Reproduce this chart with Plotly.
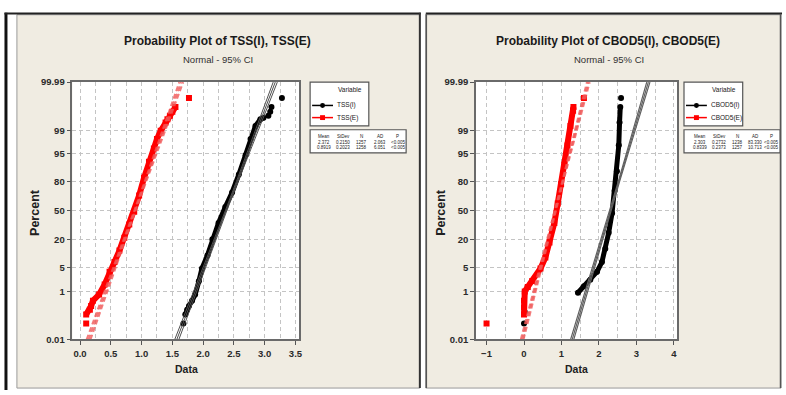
import plotly.graph_objects as go
from statistics import NormalDist

W, H = 786, 395
ND = NormalDist()

# ---------------- data ----------------
percent_ticks = [0.01, 1, 5, 20, 50, 80, 95, 99, 99.99]
percent_tick_text = ["0.01", "1", "5", "20", "50", "80", "95", "99", "99.99"]

# TSS(I)  (black circles)
tss_i_pct = [0.056, 0.135, 0.212, 0.298, 0.466, 0.776, 2.07, 4.75, 9.85, 20.6, 36.3, 54.4,
             70.2, 85.3, 94.6, 98.1, 99.29, 99.59, 99.64, 99.70, 99.79, 99.865, 99.944]
tss_i_val = [1.68, 1.71, 1.74, 1.77, 1.82, 1.87, 1.93, 1.98, 2.07, 2.15, 2.25, 2.36,
             2.47, 2.58, 2.69, 2.77, 2.85, 2.93, 2.98, 3.06, 3.09, 3.11, 3.28]
# TSS(E)  (red squares)
tss_e_pct = [0.056, 0.135, 0.212, 0.298, 0.466, 0.776, 1.66, 3.92, 6.94, 12.5, 21.8, 34.5,
             48.8, 67.0, 83.0, 92.2, 96.4, 98.1, 98.96, 99.46, 99.59, 99.70, 99.79, 99.865, 99.944]
tss_e_val = [0.10, 0.10, 0.16, 0.18, 0.21, 0.31, 0.40, 0.48, 0.56, 0.64, 0.72, 0.80,
             0.88, 0.96, 1.04, 1.12, 1.20, 1.25, 1.31, 1.39, 1.42, 1.46, 1.50, 1.55, 1.77]
# CBOD5(I) (black circles)
cbod_i_pct = [0.056, 0.17, 0.89, 1.46, 2.33, 3.92, 6.94, 13.6, 26.3, 47.2, 71.9, 87.3,
              97.1, 99.46, 99.865, 99.944]
cbod_i_val = [0.0, 0.02, 1.44, 1.60, 1.77, 1.95, 2.08, 2.17, 2.26, 2.35, 2.42, 2.48,
              2.53, 2.55, 2.57, 2.59]
# CBOD5(E) (red squares)
cbod_e_pct = [0.056, 0.135, 0.264, 0.466, 0.99, 1.39, 2.12, 4.75, 8.85, 17.9, 36.3, 58.3,
              77.9, 90.8, 97.06, 99.29, 99.81, 99.865, 99.944]
cbod_e_val = [-1.0, 0.0, 0.0, 0.0, 0.02, 0.10, 0.22, 0.44, 0.57, 0.68, 0.81, 0.90,
              0.99, 1.08, 1.16, 1.24, 1.31, 1.32, 1.60]

# summary statistics (legend tables)
stat_header = ["Mean", "StDev", "N", "AD", "P"]
tss_names = ["TSS(I)", "TSS(E)"]
tss_mean = [2.372, 0.8919]
tss_sd = [0.2150, 0.2023]
tss_n = [1257, 1258]
tss_ad = ["2.063", "6.051"]
tss_p = ["<0.005", "<0.005"]
cbod_names = ["CBOD5(I)", "CBOD5(E)"]
cbod_mean = [2.303, 0.8339]
cbod_sd = [0.2732, 0.2373]
cbod_n = [1238, 1257]
cbod_ad = ["83.330", "10.713"]
cbod_p = ["<0.005", "<0.005"]

# ---------------- helpers ----------------
FONT = "Liberation Sans, Arial, sans-serif"
BEIGE = "#F0ECE2"
RED = "#FF0000"
RED_FIT = "rgba(240,90,90,0.8)"
GRID = "#C4C4C4"


def zq(p):
    return ND.inv_cdf(p / 100.0)


def PX(x):
    return x / W


def PY(y):
    return 1 - y / H


fig = go.Figure()


def add_series(vals, pcts, color, symbol, lo, hi, xa, ya, lw):
    zs = [zq(p) for p in pcts]
    fig.add_trace(go.Scatter(x=vals[lo:hi], y=zs[lo:hi], mode="lines",
                             line=dict(color=color, width=lw), xaxis=xa, yaxis=ya,
                             hoverinfo="skip"))
    fig.add_trace(go.Scatter(x=vals, y=zs, mode="markers",
                             marker=dict(color=color, symbol=symbol, size=6, line=dict(width=0)),
                             xaxis=xa, yaxis=ya))


def add_fit(mean, sd, n, color, dash, width, xa, ya):
    zs = [zq(p) for p in percent_ticks]
    fit = [mean + sd * z for z in zs]
    half = [1.96 * sd * (1.0 / n + z * z / (2.0 * n)) ** 0.5 for z in zs]
    lower = [f - h for f, h in zip(fit, half)]
    upper = [f + h for f, h in zip(fit, half)]
    for xs in (lower, fit, upper):
        fig.add_trace(go.Scatter(x=xs, y=zs, mode="lines",
                                 line=dict(color=color, width=width, dash=dash),
                                 xaxis=xa, yaxis=ya, hoverinfo="skip"))


# left panel
add_series(tss_i_val, tss_i_pct, "#000000", "circle", 1, 19, "x", "y", 5)
add_series(tss_e_val, tss_e_pct, RED, "square", 1, 24, "x", "y", 6)
add_fit(tss_mean[0], tss_sd[0], tss_n[0], "#505050", "solid", 1, "x", "y")
add_fit(tss_mean[1], tss_sd[1], tss_n[1], RED_FIT, "5px,3px", 2, "x", "y")

# right panel
add_series(cbod_i_val, cbod_i_pct, "#000000", "circle", 2, 15, "x2", "y2", 5)
add_series(cbod_e_val, cbod_e_pct, RED, "square", 1, 18, "x2", "y2", 6)
add_fit(cbod_mean[0], cbod_sd[0], cbod_n[0], "#606060", "solid", 1.2, "x2", "y2")
add_fit(cbod_mean[1], cbod_sd[1], cbod_n[1], RED_FIT, "5px,3px", 2, "x2", "y2")

# ---------------- axes ----------------
TICKFONT = dict(family=FONT, size=9.5, color="#2a2a2a", weight="bold")
ydom = [PY(343), PY(78.3)]
yax = dict(range=[zq(0.01), zq(99.99)], tickmode="array",
           tickvals=[zq(p) for p in percent_ticks], ticktext=percent_tick_text,
           ticks="outside", ticklen=4, tickcolor="#555", showline=True, linecolor="#6a6a6a",
           linewidth=1.5, mirror=True, showgrid=True, gridcolor=GRID, griddash="4px,3px",
           gridwidth=1, zeroline=False, domain=ydom, tickfont=TICKFONT)


def xax(rng, dtick, minor, dom, fmt, anchor):
    return dict(range=rng, tickmode="linear", tick0=0, dtick=dtick, tickformat=fmt,
                ticks="outside", ticklen=4, tickcolor="#555", showline=True,
                linecolor="#6a6a6a", linewidth=1.5, mirror=True, showgrid=True,
                gridcolor=GRID, griddash="4px,3px", gridwidth=1, zeroline=False,
                minor=dict(dtick=minor, tick0=0, showgrid=True, gridcolor=GRID,
                           griddash="4px,3px", gridwidth=1),
                domain=dom, anchor=anchor, tickfont=TICKFONT)


fig.update_layout(
    width=W, height=H, margin=dict(l=0, r=0, t=0, b=0),
    paper_bgcolor="white", plot_bgcolor="white", showlegend=False,
    xaxis=xax([-0.125, 3.56], 0.5, 0.25, [PX(72.7), PX(300.7)], ".1f", "y"),
    yaxis=dict(yax, anchor="x"),
    xaxis2=xax([-1.285, 4.09], 1, 0.5, [PX(478.3), PX(680.7)], "d", "y2"),
    yaxis2=dict(yax, anchor="x2"),
)

# ---------------- panels / frames ----------------
shapes = []


def rect(x0, y0, x1, y1, fill, line_color=None, lw=0, layer="below"):
    shapes.append(dict(type="rect", xref="paper", yref="paper", x0=PX(x0), x1=PX(x1),
                       y0=PY(y1), y1=PY(y0), fillcolor=fill,
                       line=dict(color=line_color or fill, width=lw), layer=layer))


def line(x0, y0, x1, y1, color, lw, layer="below"):
    shapes.append(dict(type="line", xref="paper", yref="paper", x0=PX(x0), x1=PX(x1),
                       y0=PY(y0), y1=PY(y1), line=dict(color=color, width=lw), layer=layer))


# panel backgrounds
rect(17, 9, 422, 393, BEIGE, "#9a9a9a", 1)
rect(428, 9, 785, 393, BEIGE, "#9a9a9a", 1)
# plot areas (white)
rect(72.7, 78.3, 300.7, 343, "white")
rect(478.3, 78.3, 680.7, 343, "white")
# dark frames
rect(4.5, 7, 7.5, 395, "#111111")
line(4.5, 7.8, 423, 7.8, "#222222", 2)
line(422, 7, 422, 393, "#333333", 2)
line(428, 7.8, 786, 7.8, "#222222", 2)
line(428.5, 8, 428.5, 393, "#555555", 1.5)
line(784.5, 8, 784.5, 393, "#555555", 1.5)

annotations = []


def text(x, y, s, size, bold=False, color="#202020", xanchor="center", angle=0, family=FONT):
    annotations.append(dict(x=PX(x), y=PY(y), xref="paper", yref="paper",
                            text=(f"<b>{s}</b>" if bold else s),
                            showarrow=False, xanchor=xanchor, yanchor="middle", textangle=angle,
                            font=dict(family=family, size=size, color=color)))


def legend_block(x0, names, means, sds, ns, ads, ps, cols):
    rect(x0, 78.3, x0 + 59, 123.3, "white", "#555555", 1.2, "above")
    text(x0 + 40, 86, "Variable", 6.5)
    ys = [102.3, 114.8]
    colors = ["#000000", RED]
    for i, nm in enumerate(names):
        y = ys[i]
        line(x0 + 2, y, x0 + 23, y, colors[i], 1.5, "above")
        if i == 0:
            shapes.append(dict(type="circle", xref="paper", yref="paper",
                               x0=PX(x0 + 10), x1=PX(x0 + 15), y0=PY(y + 2.5), y1=PY(y - 2.5),
                               fillcolor="#000000", line=dict(color="#000000", width=0),
                               layer="above"))
        else:
            rect(x0 + 10, y - 2.5, x0 + 15, y + 2.5, RED, RED, 0, "above")
        text(x0 + 25, y, nm, 6.5, xanchor="left")
    # stats table
    rect(x0, 127.3, x0 + 96.5, 151, "white", "#555555", 1.2, "above")
    for c, h in zip(cols, stat_header):
        text(c, 134.5, h, 4.5)
    for r, yy in enumerate([140.5, 146]):
        row = [f"{means[r]}", f"{sds[r]:.4f}", f"{ns[r]}", ads[r], ps[r]]
        for c, v in zip(cols, row):
            text(c, yy, v, 4.5)


legend_block(311.7, tss_names, tss_mean, tss_sd, tss_n, tss_ad, tss_p,
             [326, 345, 363, 382, 400])
legend_block(687.5, cbod_names, cbod_mean, cbod_sd, cbod_n, cbod_ad, cbod_p,
             [704, 723, 741, 759, 775])

# titles
text(218.5, 36.5, "Probability Plot of TSS(I), TSS(E)", 12, bold=True, color="#1a1a1a")
text(219, 55, "Normal - 95% CI", 9.5, color="#303030")
text(611.5, 36.5, "Probability Plot of CBOD5(I), CBOD5(E)", 12, bold=True, color="#1a1a1a")
text(612, 55, "Normal - 95% CI", 9.5, color="#303030")
# axis titles
text(35, 212, "Percent", 12.5, bold=True, angle=-90)
text(443, 212, "Percent", 12.5, bold=True, angle=-90)
text(187, 373, "Data", 10.5, bold=True)
text(579.5, 373, "Data", 10.5, bold=True)

fig.update_layout(shapes=shapes, annotations=annotations)
fig.write_html("out.html", config={"displayModeBar": False},
               post_script="document.body.style.margin='0';")
